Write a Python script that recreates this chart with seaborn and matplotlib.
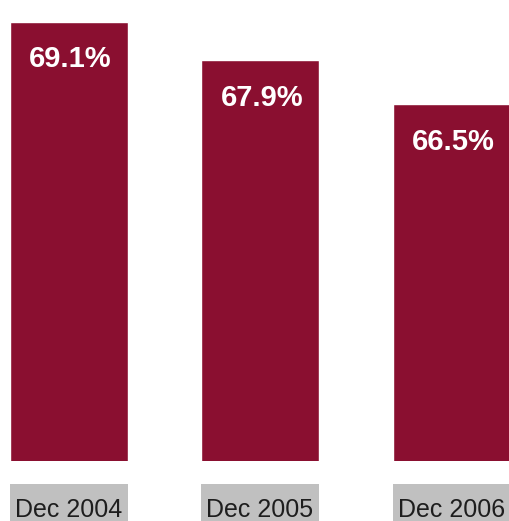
import matplotlib
matplotlib.use("Agg")
import matplotlib.pyplot as plt
import matplotlib.transforms as mtransforms
from matplotlib.patches import Rectangle
import seaborn as sns
import pandas as pd

# Share of the total at each year end (%)
periods = ["Dec 2004", "Dec 2005", "Dec 2006"]
shares = [69.1, 67.9, 66.5]

bar_color = "#8a0f30"
label_box_color = "#c0c0c0"
bar_width = 0.616

sns.set_theme(style="white")
plt.rcParams["font.family"] = ["Liberation Sans", "DejaVu Sans"]

df = pd.DataFrame({"period": periods, "share": shares})

fig = plt.figure(figsize=(5.10, 5.21), dpi=100)
ax = fig.add_axes([0.0, 60 / 521, 1.0, 461 / 521])

sns.barplot(data=df, x="period", y="share", color=bar_color,
            saturation=1, width=bar_width, ax=ax, zorder=2)

# Truncated value axis, as in the printed chart
ax.set_ylim(55.28, 55.28 + 461 / 31.78)
ax.set_xlim(-0.358, -0.358 + 510 / 191.5)

for i, v in enumerate(shares):
    ax.annotate(f"{v:.1f}%", xy=(i, v), xytext=(1.5, -17),
                textcoords="offset points", ha="center", va="top",
                color="white", fontsize=21, fontweight="bold", zorder=3)

# Grey tabs behind the period labels
trans = mtransforms.blended_transform_factory(ax.transData, fig.transFigure)
for i in range(len(periods)):
    ax.add_patch(Rectangle((i - bar_width / 2, 0), bar_width, 37 / 521,
                           transform=trans, facecolor=label_box_color,
                           edgecolor="none", clip_on=False, zorder=0.5))

ax.set_xlabel("")
ax.set_ylabel("")
ax.set_yticks([])
ax.tick_params(axis="x", length=0, pad=26.5, labelsize=18, labelcolor="#1e1e1e")
for s in ax.spines.values():
    s.set_visible(False)

fig.savefig("out.png", dpi=100, facecolor="white")
